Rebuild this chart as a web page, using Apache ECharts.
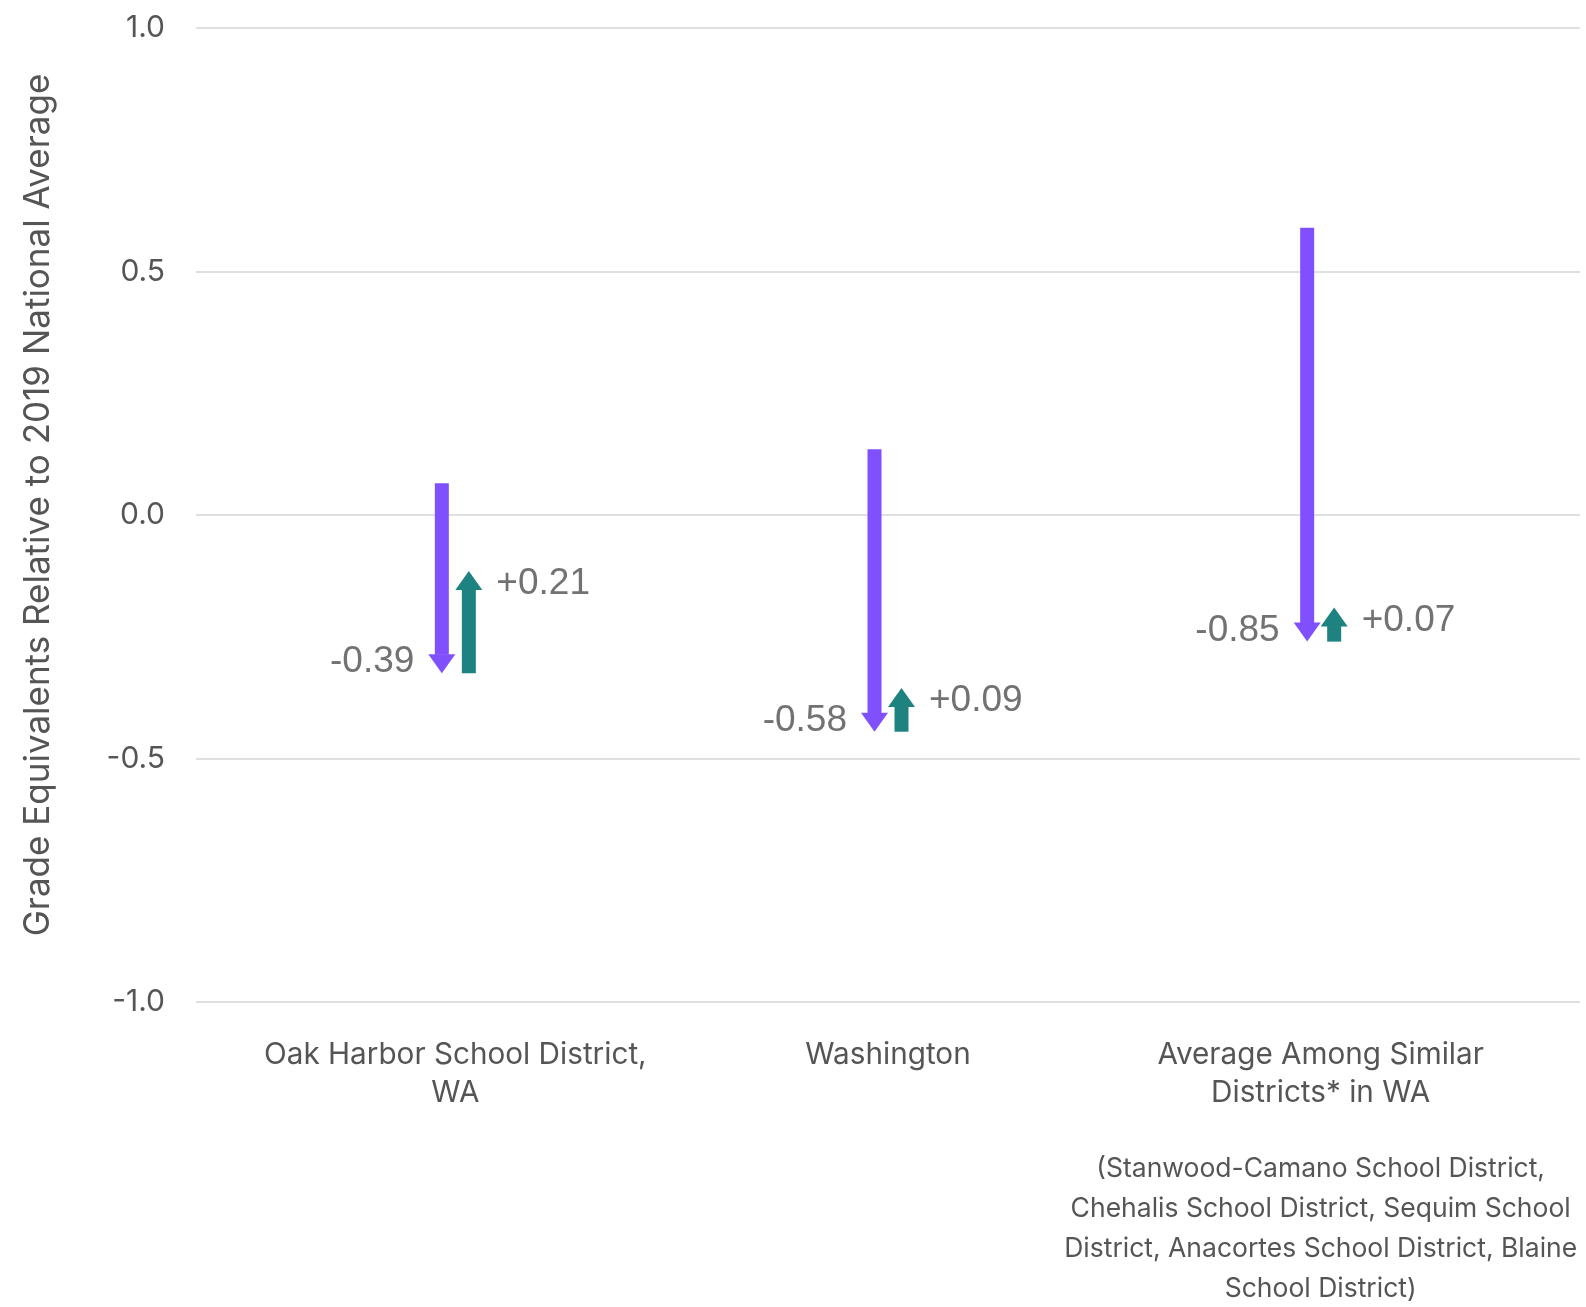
<!DOCTYPE html>
<html>
<head>
<meta charset="utf-8">
<script src="https://cdn.jsdelivr.net/npm/echarts@6/dist/echarts.min.js"></script>
<style>
  html, body { margin: 0; padding: 0; background: #ffffff; }
  #chart { width: 1586px; height: 1307px; }
</style>
</head>
<body>
<div id="chart"></div>
<script>
// ---- data ----
const categories = ['Oak Harbor School District,\nWA', 'Washington', 'Average Among Similar\nDistricts* in WA'];
const categoryNotes = ['', '', '(Stanwood-Camano School District,\nChehalis School District, Sequim School\nDistrict, Anacortes School District, Blaine\nSchool District)'];
const startValues = [0.065, 0.135, 0.59];      // 2019 level (top of purple arrow)
const declineValues = [-0.39, -0.58, -0.85];   // purple arrow change
const recoveryValues = [0.21, 0.09, 0.07];     // teal arrow change
const yMin = -1, yMax = 1, yInterval = 0.5;
const yAxisTitle = 'Grade Equivalents Relative to 2019 National Average';

// ---- styles ----
const PURPLE = '#8050ff';
const TEAL = '#1e8380';
const LABEL_COLOR = '#727272';
const AXIS_COLOR = '#555555';
const VALUE_FONT = '37px "Liberation Sans", Arial, sans-serif';

function fmtChange(v) {
  return (v > 0 ? '+' : '') + v.toFixed(2);
}

const declineData = categories.map((c, i) => [i, startValues[i], startValues[i] + declineValues[i]]);
const recoveryData = categories.map((c, i) => {
  const from = startValues[i] + declineValues[i];
  return [i, from, from + recoveryValues[i]];
});
const declineLabels = declineValues.map(fmtChange);
const recoveryLabels = recoveryValues.map(fmtChange);

const SHAFT = 14, HEAD_W = 27, HEAD_L = 19, OFFSET = 13.5;

function makeArrowRenderer(color, dx, isDown, labels) {
  return function (params, api) {
    const cat = api.value(0);
    const p0 = api.coord([cat, api.value(1)]);
    const p1 = api.coord([cat, api.value(2)]);
    const cx = p0[0] + dx;
    const yFrom = p0[1], yTo = p1[1];
    const label = labels[params.dataIndex];
    const children = [];
    if (isDown) {
      children.push({ type: 'rect', shape: { x: cx - SHAFT / 2, y: yFrom, width: SHAFT, height: (yTo - HEAD_L) - yFrom + 0.5 }, style: { fill: color } });
      children.push({ type: 'polygon', shape: { points: [[cx - HEAD_W / 2, yTo - HEAD_L], [cx + HEAD_W / 2, yTo - HEAD_L], [cx, yTo]] }, style: { fill: color } });
      children.push({ type: 'text', x: cx - HEAD_W / 2 - 14, y: yTo - 11, style: { text: label, align: 'right', verticalAlign: 'middle', fill: LABEL_COLOR, font: VALUE_FONT } });
    } else {
      children.push({ type: 'rect', shape: { x: cx - SHAFT / 2, y: yTo + HEAD_L - 0.5, width: SHAFT, height: yFrom - (yTo + HEAD_L) + 0.5 }, style: { fill: color } });
      children.push({ type: 'polygon', shape: { points: [[cx - HEAD_W / 2, yTo + HEAD_L], [cx + HEAD_W / 2, yTo + HEAD_L], [cx, yTo]] }, style: { fill: color } });
      children.push({ type: 'text', x: cx + HEAD_W / 2 + 14, y: yTo + 13, style: { text: label, align: 'left', verticalAlign: 'middle', fill: LABEL_COLOR, font: VALUE_FONT } });
    }
    return { type: 'group', children: children };
  };
}

function categoryLabel(value, index) {
  const main = categories[index].split('\n').map(s => '{m|' + s + '}');
  const note = categoryNotes[index];
  if (note) {
    main.push('{g| }');
    note.split('\n').forEach(s => main.push('{n|' + s + '}'));
  }
  return main.join('\n');
}

const chart = echarts.init(document.getElementById('chart'), null, { renderer: 'canvas' });
chart.setOption({
  animation: false,
  backgroundColor: '#ffffff',
  grid: [
    { left: 196, right: 6, top: 28, bottom: 305 },
    { left: 239, right: 49, top: 28, bottom: 305 }
  ],
  xAxis: [
    { gridIndex: 0, type: 'value', min: 0, max: 1, show: false },
    {
      gridIndex: 1, type: 'category', data: categories, boundaryGap: true,
      axisLine: { show: false }, axisTick: { show: false },
      axisLabel: {
        interval: 0, margin: 34, color: AXIS_COLOR, formatter: categoryLabel,
        rich: {
          m: { fontSize: 29.7, lineHeight: 38, color: AXIS_COLOR, fontFamily: 'Inter' },
          g: { fontSize: 10, lineHeight: 37 },
          n: { fontSize: 26.5, lineHeight: 40, color: AXIS_COLOR, fontFamily: 'Inter' }
        }
      }
    }
  ],
  yAxis: [
    {
      gridIndex: 0, type: 'value', min: yMin, max: yMax, interval: yInterval,
      name: yAxisTitle, nameLocation: 'middle', nameGap: 140,
      nameTextStyle: { fontSize: 35, color: AXIS_COLOR, fontFamily: 'Inter', padding: [0, 0, 0, 20] },
      axisLine: { show: false }, axisTick: { show: false },
      axisLabel: { margin: 31, fontSize: 30, color: AXIS_COLOR, fontFamily: 'Inter', formatter: v => v.toFixed(1) },
      splitLine: { show: true, lineStyle: { color: '#e0e0e0', width: 2 } }
    },
    { gridIndex: 1, type: 'value', min: yMin, max: yMax, interval: yInterval, show: false, splitLine: { show: false } }
  ],
  series: [
    { type: 'custom', name: 'Decline', xAxisIndex: 1, yAxisIndex: 1, data: declineData, renderItem: makeArrowRenderer(PURPLE, -OFFSET, true, declineLabels), clip: false },
    { type: 'custom', name: 'Recovery', xAxisIndex: 1, yAxisIndex: 1, data: recoveryData, renderItem: makeArrowRenderer(TEAL, OFFSET, false, recoveryLabels), clip: false }
  ]
});
</script>
</body>
</html>
